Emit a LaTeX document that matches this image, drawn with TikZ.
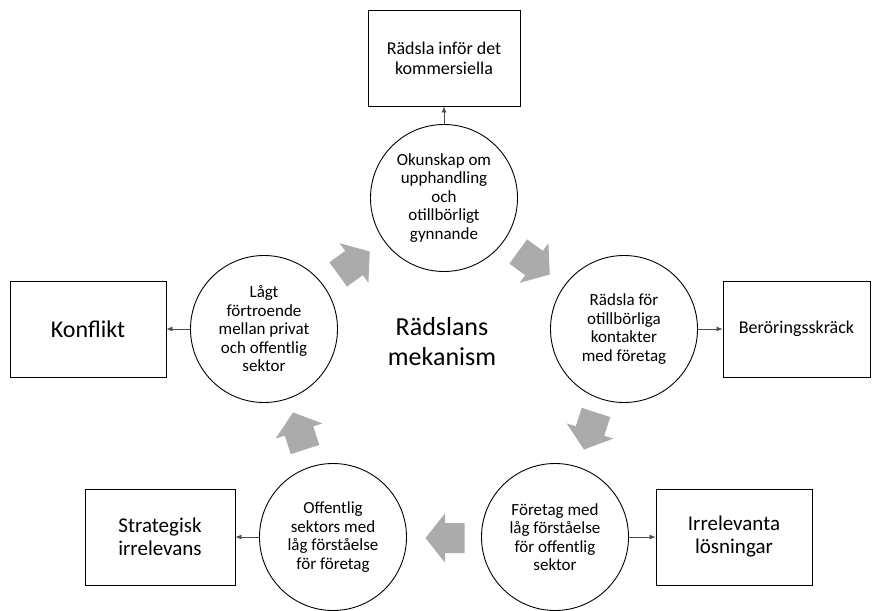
\documentclass[tikz,border=0pt]{standalone}
\usepackage{fontspec}
\setmainfont{Carlito}
\usetikzlibrary{arrows.meta}
\definecolor{blockgray}{RGB}{171,171,171}
\tikzset{
    cirk/.style={draw,circle,line width=0.9pt,minimum size=147pt,inner sep=0pt,align=center,font=\fontsize{17}{18.5}\selectfont},
    ruta/.style={draw,rectangle,line width=0.9pt,minimum height=96pt,inner sep=0pt,align=center},
    pil/.style={black!70,line width=0.7pt,-{Latex[length=6pt,width=5pt]}}
}
\begin{document}
\begin{tikzpicture}[x=1pt,y=1pt]
                    \def\blockpil{\fill[blockgray](-19.5,-15)--(0,-15)--(0,-24.5)--(19.5,0)--(0,24.5)--(0,15)--(-19.5,15)--cycle;}
                    \useasboundingbox(0,0)rectangle(872,-610);
                    \node[cirk](okunskap)at(444,-198){Okunskap om\\upphandling\\och\\otillbörligt\\gynnande};
                    \node[cirk](kontakter)at(624,-329){Rädsla för\\otillbörliga\\kontakter\\med företag};
                    \node[cirk](foretag)at(555,-537){Företag med\\låg förståelse\\för offentlig\\sektor};
                    \node[cirk](offentlig)at(333,-537){Offentlig\\sektors med\\låg förståelse\\för företag};
                    \node[cirk](fortroende)at(264,-329){Lågt\\förtroende\\mellan privat\\och offentlig\\sektor};
                    \node[font=\fontsize{26}{30}\selectfont,align=center](mekanism)at(442,-342){Rädslans\\mekanism};
                    \node[ruta,minimum width=152pt,font=\fontsize{18}{20}\selectfont](kommersiella)at(444,-58){Rädsla inför det\\kommersiella};
                    \node[ruta,minimum width=147pt,font=\fontsize{18}{20}\selectfont](beroring)at(796.5,-329){Beröringsskräck};
                    \node[ruta,minimum width=156pt,font=\fontsize{21}{23}\selectfont](losningar)at(734,-537){Irrelevanta\\lösningar};
                    \node[ruta,minimum width=150pt,font=\fontsize{21}{23}\selectfont](strategisk)at(160,-537){Strategisk\\irrelevans};
                    \node[ruta,minimum width=156pt,font=\fontsize{24}{28}\selectfont](konflikt)at(88,-329){Konflikt};
                    \draw[pil](okunskap)--(kommersiella);
                    \draw[pil](kontakter)--(beroring);
                    \draw[pil](foretag)--(losningar);
                    \draw[pil](offentlig)--(strategisk);
                    \draw[pil](fortroende)--(konflikt);
                    \begin{scope}[shift={(354,-263)},rotate=36]
                        \blockpil
                    \end{scope}
                    \begin{scope}[shift={(534,-263)},rotate=-36]
                        \blockpil
                    \end{scope}
                    \begin{scope}[shift={(590,-431)},rotate=-108]
                        \blockpil
                    \end{scope}
                    \begin{scope}[shift={(445,-538)},rotate=180]
                        \blockpil
                    \end{scope}
                    \begin{scope}[shift={(299,-431)},rotate=108]
                        \blockpil
                    \end{scope}
                \end{tikzpicture}
\end{document}
